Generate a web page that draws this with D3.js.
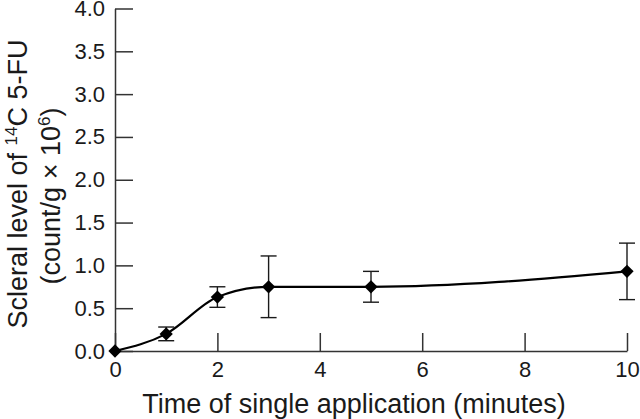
<!DOCTYPE html>
<html>
<head>
<meta charset="utf-8">
<script src="https://cdn.jsdelivr.net/npm/d3@7"></script>
<style>
  body { margin: 0; background: #fff; }
  svg { display: block; font-family: "Liberation Sans", Arial, Helvetica, sans-serif; }
</style>
</head>
<body>
<svg id="chart" width="640" height="419"></svg>
<script>
// time of single application (minutes) and scleral level (count/g x 10^6)
var times = [0, 1, 2, 3, 5, 10];
var means = [0, 0.20, 0.63, 0.75, 0.75, 0.93];
var errs  = [0, 0.08, 0.12, 0.36, 0.18, 0.33];
var xTicks = [0, 2, 4, 6, 8, 10];
var yTicks = [0, 0.5, 1.0, 1.5, 2.0, 2.5, 3.0, 3.5, 4.0];

var svg = d3.select("#chart");
var ink = "#1a1a1a";

var x = d3.scaleLinear().domain([0, 10]).range([115, 627]);
var y = d3.scaleLinear().domain([0, 4]).range([351, 8.5]);

// axes, ticks point inwards
var xAxis = svg.append("g")
    .attr("transform", "translate(0," + y(0) + ")")
    .call(d3.axisBottom(x).tickValues(xTicks).tickFormat(d3.format("d"))
        .tickSizeInner(-18).tickSizeOuter(0).tickPadding(10));
var yAxis = svg.append("g")
    .attr("transform", "translate(" + x(0) + ",0)")
    .call(d3.axisLeft(y).tickValues(yTicks).tickFormat(d3.format(".1f"))
        .tickSizeInner(-18).tickSizeOuter(0).tickPadding(10));

[xAxis, yAxis].forEach(function(ax) {
    ax.select(".domain").attr("stroke", "#333").attr("stroke-width", 1.5);
    ax.selectAll(".tick line").attr("stroke", "#333").attr("stroke-width", 1.5);
    ax.selectAll(".tick text").attr("fill", ink).style("font-size", "22px")
        .style("font-family", "'Liberation Sans', Arial, Helvetica, sans-serif");
});

var pts = times.map(function(t, i) { return {t: t, m: means[i], e: errs[i]}; });

// error bars
var eb = svg.append("g").attr("stroke", ink).attr("stroke-width", 1.4).attr("fill", "none");
pts.filter(function(d) { return d.e > 0; }).forEach(function(d) {
    var cx = x(d.t), y1 = y(d.m + d.e), y2 = y(d.m - d.e);
    eb.append("line").attr("x1", cx).attr("x2", cx).attr("y1", y1).attr("y2", y2);
    eb.append("line").attr("x1", cx - 8).attr("x2", cx + 8).attr("y1", y1).attr("y2", y1);
    eb.append("line").attr("x1", cx - 8).attr("x2", cx + 8).attr("y1", y2).attr("y2", y2);
});

// fitted line
var line = d3.line()
    .x(function(d) { return x(d.t); })
    .y(function(d) { return y(d.m); })
    .curve(d3.curveMonotoneX);
svg.append("path").datum(pts)
    .attr("d", line)
    .attr("fill", "none")
    .attr("stroke", "#000")
    .attr("stroke-width", 2.2);

// diamond markers
var sq = d3.symbol().type(d3.symbolSquare).size(88);
svg.append("g").selectAll("path").data(pts).join("path")
    .attr("d", sq)
    .attr("transform", function(d) { return "translate(" + x(d.t) + "," + y(d.m) + ") rotate(45)"; })
    .attr("fill", "#000");

// x title
svg.append("text")
    .attr("x", 354).attr("y", 413)
    .attr("text-anchor", "middle")
    .attr("fill", ink)
    .style("font-size", "27px")
    .text("Time of single application (minutes)");

// y title, two rotated lines with superscripts
var t1 = svg.append("text")
    .attr("transform", "translate(27,184) rotate(-90)")
    .attr("text-anchor", "middle")
    .attr("fill", ink)
    .style("font-size", "27px");
t1.append("tspan").text("Scleral level of ");
t1.append("tspan").attr("dy", -10).style("font-size", "17px").text("14");
t1.append("tspan").attr("dy", 10).text("C 5-FU");

var t2 = svg.append("text")
    .attr("transform", "translate(60,196) rotate(-90)")
    .attr("text-anchor", "middle")
    .attr("fill", ink)
    .style("font-size", "27px");
t2.append("tspan").text("(count/g \u00d7 10");
t2.append("tspan").attr("dy", -10).style("font-size", "17px").text("6");
t2.append("tspan").attr("dy", 10).text(")");
</script>
</body>
</html>
